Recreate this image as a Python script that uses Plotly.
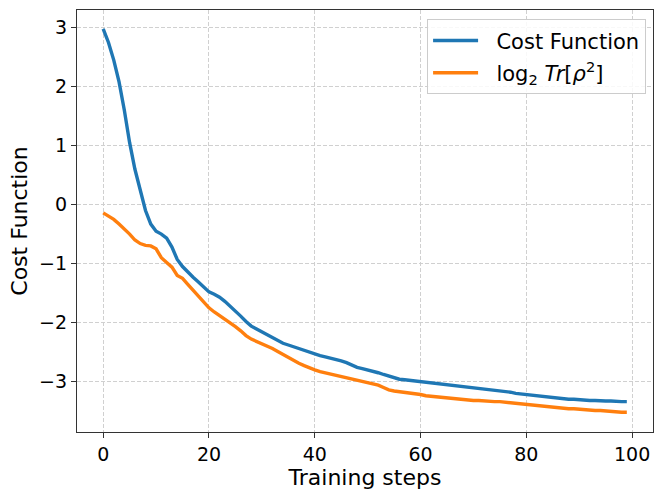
import plotly.graph_objects as go

steps = list(range(100))
cost_function = [
    2.98, 2.75, 2.45, 2.08, 1.6, 1.05, 0.6, 0.22, -0.1, -0.33,
    -0.45, -0.5, -0.57, -0.72, -0.93, -1.05, -1.15, -1.23, -1.31, -1.4,
    -1.48, -1.52, -1.57, -1.64, -1.72, -1.8, -1.89, -1.98, -2.06, -2.11,
    -2.16, -2.21, -2.26, -2.31, -2.35, -2.38, -2.41, -2.44, -2.48, -2.51,
    -2.53, -2.56, -2.58, -2.6, -2.63, -2.65, -2.68, -2.72, -2.76, -2.78,
    -2.8, -2.82, -2.85, -2.88, -2.91, -2.94, -2.96, -2.97, -2.98, -3.0,
    -3.01, -3.02, -3.03, -3.04, -3.05, -3.05, -3.06, -3.07, -3.08, -3.09,
    -3.1, -3.11, -3.12, -3.13, -3.14, -3.16, -3.17, -3.18, -3.2, -3.21,
    -3.23, -3.24, -3.25, -3.26, -3.27, -3.28, -3.28, -3.29, -3.3, -3.3,
    -3.31, -3.32, -3.32, -3.32, -3.33, -3.33, -3.33, -3.34, -3.34, -3.34,
]
log2_purity = [
    -0.14, -0.19, -0.25, -0.33, -0.41, -0.5, -0.6, -0.66, -0.69, -0.7,
    -0.75, -0.9, -0.98, -1.06, -1.2, -1.25, -1.35, -1.45, -1.56, -1.66,
    -1.75, -1.82, -1.88, -1.94, -2.0, -2.07, -2.14, -2.22, -2.28, -2.32,
    -2.35, -2.39, -2.44, -2.49, -2.54, -2.59, -2.65, -2.69, -2.73, -2.77,
    -2.8, -2.83, -2.85, -2.87, -2.89, -2.91, -2.93, -2.95, -2.97, -2.99,
    -3.01, -3.03, -3.06, -3.1, -3.14, -3.16, -3.17, -3.19, -3.2, -3.21,
    -3.22, -3.24, -3.25, -3.26, -3.27, -3.28, -3.29, -3.3, -3.3, -3.31,
    -3.32, -3.32, -3.33, -3.33, -3.34, -3.34, -3.35, -3.35, -3.36, -3.37,
    -3.38, -3.39, -3.4, -3.41, -3.42, -3.43, -3.44, -3.45, -3.46, -3.46,
    -3.47, -3.48, -3.48, -3.49, -3.49, -3.5, -3.5, -3.51, -3.52, -3.52,
]
x_ticks = [0, 20, 40, 60, 80, 100]
y_ticks = [-3, -2, -1, 0, 1, 2, 3]

font = "DejaVu Sans"
fig = go.Figure()
fig.add_trace(go.Scatter(x=steps, y=cost_function, mode="lines",
                         name="\u00a0\u00a0Cost Function", legendgroup="a",
                         line=dict(color="#1f77b4", width=3.4)))
fig.add_trace(go.Scatter(x=steps, y=log2_purity, mode="lines",
                         name="\u00a0\u00a0log<sub>2</sub> <i>Tr</i>[<i>ρ</i><sup>2</sup>]", legendgroup="b",
                         line=dict(color="#ff7f0e", width=3.4)))

axis_common = dict(
    showline=True, linecolor="#333", linewidth=1.2, mirror=True,
    ticks="outside", ticklen=5, tickwidth=1.2, tickcolor="#333",
    showgrid=True, gridcolor="#d0d0d0", griddash="4px,2px", gridwidth=1,
    zeroline=False, automargin=False,
    tickfont=dict(family=font, size=19, color="black"),
)
fig.update_xaxes(range=[-4.95, 103.95], tickvals=x_ticks,
                 title=dict(text="Training steps", font=dict(family=font, size=22, color="black"), standoff=4),
                 **axis_common)
fig.update_yaxes(range=[-3.855, 3.3], tickvals=y_ticks,
                 title=dict(text="Cost Function", font=dict(family=font, size=22, color="black"), standoff=5),
                 **axis_common)

fig.update_layout(
    width=654, height=492,
    margin=dict(l=77, r=1, t=10, b=60),
    plot_bgcolor="white", paper_bgcolor="white",
    font=dict(family=font, color="black"),
    legend=dict(x=0.988, y=0.978, xanchor="right", yanchor="top",
                bgcolor="rgba(255,255,255,0.85)", bordercolor="#cccccc", borderwidth=1,
                font=dict(family=font, size=21, color="black"),
                itemwidth=45, tracegroupgap=2),
)
fig.write_html("out.html", config={"displayModeBar": False},
               post_script="document.body.style.margin='0';document.body.style.overflow='hidden';")
